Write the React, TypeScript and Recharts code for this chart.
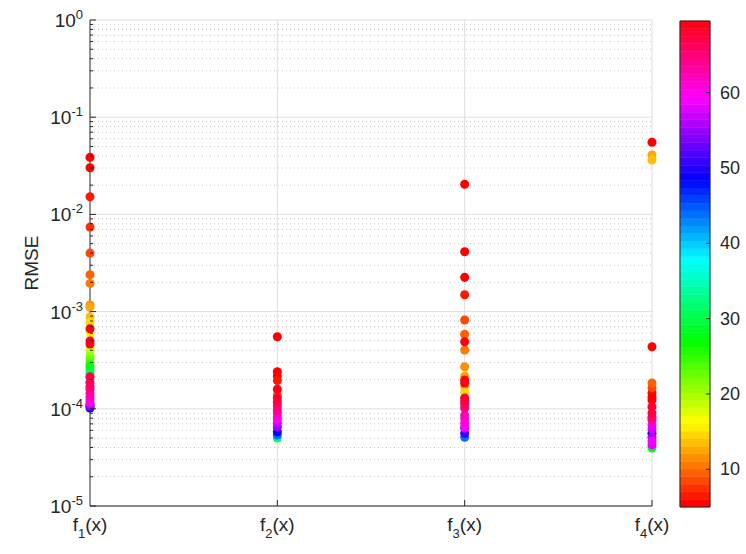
import React from 'react';
import {
  ScatterChart,
  Scatter,
  XAxis,
  YAxis,
  ZAxis,
  CartesianGrid,
  Cell,
  Label,
  ComposedChart,
  ReferenceArea,
} from 'recharts';

// ---------- data ----------
const categoryX = [1, 2, 3, 4];
const categorySubscripts = ['1', '2', '3', '4'];

const yMajorTicks = [1e-5, 1e-4, 1e-3, 1e-2, 1e-1, 1];
const yMinorMultipliers = [2, 3, 4, 5, 6, 7, 8, 9];
const colorbarTicks = [10, 20, 30, 40, 50, 60];
const colorMin = 5;
const colorMax = 69.5;

// RMSE values and colour value for each function column
const f1Rmse = [0.0386, 0.0302, 0.0152, 0.0074, 0.004, 0.0024, 0.00195, 0.00117, 0.00111, 0.00088, 0.00077, 0.000602, 0.000432, 0.000393, 0.00035, 0.00032, 0.00029, 0.00027, 0.00025, 0.00023, 0.00021, 0.00019, 0.000105, 0.00011, 0.000102, 0.000107, 0.00011, 0.000115, 0.000123, 0.000132, 0.000144, 0.000158, 0.00017, 0.000186, 0.000214, 0.000499, 0.000667, 0.000464];
const f1Color = [5, 6, 7, 8, 9, 10, 11, 12, 13, 14, 15, 16, 18, 19, 21, 23, 25, 27, 29, 31, 33, 35, 39, 44, 49, 54, 56, 59, 60, 62, 63, 64, 65, 66, 67, 68, 69, 70];

const f2Rmse = [0.000552, 0.000241, 0.000217, 0.000195, 0.000139, 0.00005, 0.0000537, 0.000058, 0.000065, 0.000071, 0.000077, 0.000082, 0.0000905, 0.000097, 0.000107, 0.000117, 0.000129, 0.000159];
const f2Color = [5, 6, 6, 7, 10, 32, 44, 49, 55, 57, 59, 60, 62, 64, 65, 67, 68, 69];

const f3Rmse = [0.0204, 0.00413, 0.00225, 0.00149, 0.00082, 0.000584, 0.000403, 0.000271, 0.000217, 0.000172, 0.000148, 0.000051, 0.000056, 0.000063, 0.000065, 0.000071, 0.000079, 0.000086, 0.000102, 0.000112, 0.00012, 0.000129, 0.000184, 0.00049, 0.000198];
const f3Color = [5, 6, 6, 7, 9, 10, 11, 12, 13, 13, 15, 44, 51, 56, 59, 60, 61, 62, 65, 66, 67, 68, 69, 69, 70];

const f4Rmse = [0.0552, 0.000435, 0.000146, 0.000132, 0.000123, 0.000164, 0.000184, 0.0408, 0.0363, 0.0000395, 0.0000562, 0.000051, 0.0000425, 0.0000467, 0.0000682, 0.000062, 0.000077, 0.000082, 0.0000905, 0.000105];
const f4Color = [5, 5, 6, 5, 6, 9, 10, 13, 14, 29, 49, 56, 58, 59, 60, 58, 64, 65, 67, 68];

// ---------- helpers ----------
const INK = '#262626';
const FONT = '"Liberation Sans", Arial, Helvetica, sans-serif';

function hsvToHex(h: number): string {
  const i = Math.floor(h * 6);
  const f = h * 6 - i;
  const q = 1 - f;
  let r = 0, g = 0, b = 0;
  switch (i % 6) {
    case 0: r = 1; g = f; b = 0; break;
    case 1: r = q; g = 1; b = 0; break;
    case 2: r = 0; g = 1; b = f; break;
    case 3: r = 0; g = q; b = 1; break;
    case 4: r = f; g = 0; b = 1; break;
    default: r = 1; g = 0; b = q; break;
  }
  const hx = (v: number) => Math.round(v * 255).toString(16).padStart(2, '0');
  return '#' + hx(r) + hx(g) + hx(b);
}

const NLEVELS = 64;
function colorFor(c: number): string {
  let idx = Math.floor(((c - colorMin) / (colorMax - colorMin)) * NLEVELS);
  idx = Math.max(0, Math.min(NLEVELS - 1, idx));
  return hsvToHex(idx / NLEVELS);
}

const yMinorTicks: number[] = [];
yMajorTicks.slice(0, -1).forEach((d) => yMinorMultipliers.forEach((m) => yMinorTicks.push(m * d)));
const yAllTicks = [...yMajorTicks, ...yMinorTicks].sort((a, b) => a - b);

const columns = [
  { x: categoryX[0], rmse: f1Rmse, col: f1Color },
  { x: categoryX[1], rmse: f2Rmse, col: f2Color },
  { x: categoryX[2], rmse: f3Rmse, col: f3Color },
  { x: categoryX[3], rmse: f4Rmse, col: f4Color },
].map((c) => c.rmse.map((v, i) => ({ x: c.x, y: v, c: c.col[i], fill: colorFor(c.col[i]) })));

const bands = Array.from({ length: NLEVELS }, (_, i) => ({
  y1: colorMin + ((colorMax - colorMin) * i) / NLEVELS,
  y2: colorMin + ((colorMax - colorMin) * (i + 1)) / NLEVELS,
  fill: hsvToHex(i / NLEVELS),
}));

// ---------- ticks ----------
const XTick = (props: any) => {
  const { x, y, payload } = props;
  const n = categorySubscripts[categoryX.indexOf(payload.value)];
  return (
    <g>
      {payload.value > categoryX[0] && <line x1={x} x2={x} y1={y} y2={y - 6} stroke={INK} strokeWidth={1} />}
      <text x={x} y={y + 25} textAnchor="middle" fill={INK} fontSize={19} fontFamily={FONT}>
        <tspan>f</tspan>
        <tspan dy={7} fontSize={13}>{n}</tspan>
        <tspan dy={-7}>(x)</tspan>
      </text>
    </g>
  );
};

const YTick = (props: any) => {
  const { x, y, payload } = props;
  const lv = Math.log10(payload.value);
  const e = Math.round(lv);
  const major = Math.abs(lv - e) < 1e-6;
  return (
    <g>
      <line x1={x} x2={x + (major ? 6 : 3)} y1={y} y2={y} stroke={INK} strokeWidth={1} />
      {major && (
        <text x={x - 7} y={y + 7} textAnchor="end" fill={INK} fontFamily={FONT}>
          <tspan fontSize={19}>10</tspan>
          <tspan dy={-8} fontSize={13}>{String(e)}</tspan>
        </text>
      )}
    </g>
  );
};

const CbTick = (props: any) => {
  const { x, y, payload } = props;
  return (
    <g>
      <line x1={x - 4} x2={x} y1={y} y2={y} stroke={INK} strokeWidth={1} />
      <text x={x + 10} y={y + 6} textAnchor="start" fill={INK} fontSize={18} fontFamily={FONT}>
        {payload.value}
      </text>
    </g>
  );
};

export default function App() {
  return (
    <div style={{ position: 'absolute', left: 0, top: 0, width: 746, height: 554, background: '#fff', fontFamily: FONT }}>
      <div style={{ position: 'absolute', left: 0, top: 0 }}>
        <ScatterChart width={746} height={554} margin={{ top: 20, right: 94, bottom: 0, left: 0 }}>
          <CartesianGrid horizontalValues={yMinorTicks} vertical={false} stroke="#c4c4c4" strokeDasharray="1 3" />
          <CartesianGrid horizontalValues={yMajorTicks} verticalValues={[2, 3, 4]} stroke="#dedede" />
          <XAxis
            dataKey="x"
            type="number"
            domain={[1, 4]}
            ticks={categoryX}
            interval={0}
            height={48}
            tickSize={0}
            tickMargin={0}
            tickLine={false}
            axisLine={{ stroke: INK }}
            tick={<XTick />}
          />
          <YAxis
            dataKey="y"
            type="number"
            scale="log"
            domain={[1e-5, 1]}
            ticks={yAllTicks}
            interval={0}
            width={90}
            tickSize={0}
            tickMargin={0}
            tickLine={false}
            axisLine={{ stroke: INK }}
            tick={<YTick />}
          >
            <Label
              content={(p: any) => {
                const vb = p.viewBox || { x: 0, y: 20, height: 486 };
                const cx = vb.x + 33;
                const cy = vb.y + vb.height / 2;
                return (
                  <text x={cx} y={cy} transform={`rotate(-90 ${cx} ${cy})`} textAnchor="middle" dominantBaseline="middle" fill={INK} fontSize={19} fontFamily={FONT}>
                    RMSE
                  </text>
                );
              }}
            />
          </YAxis>
          <ZAxis range={[34, 34]} />
          {columns.map((col, i) => (
            <Scatter key={i} data={col} isAnimationActive={false}>
              {col.map((p, j) => (
                <Cell key={j} fill={p.fill} stroke="none" />
              ))}
            </Scatter>
          ))}
        </ScatterChart>
      </div>
      <div style={{ position: 'absolute', left: 670, top: 0 }}>
        <ComposedChart width={76} height={554} data={[{ x: 0 }, { x: 1 }]} margin={{ top: 21, right: 0, bottom: 47, left: 10 }}>
          <XAxis dataKey="x" type="number" domain={[0, 1]} hide />
          <YAxis
            type="number"
            domain={[colorMin, colorMax]}
            allowDataOverflow
            ticks={colorbarTicks}
            interval={0}
            orientation="right"
            width={36}
            tickSize={0}
            tickMargin={0}
            tickLine={false}
            axisLine={false}
            tick={<CbTick />}
          />
          {bands.map((b, i) => (
            <ReferenceArea key={i} y1={b.y1} y2={b.y2} fill={b.fill} fillOpacity={1} stroke={b.fill} strokeWidth={0.5} ifOverflow="visible" />
          ))}
          <ReferenceArea y1={colorMin} y2={colorMax} fill="none" fillOpacity={0} stroke={INK} strokeWidth={1} ifOverflow="visible" />
        </ComposedChart>
      </div>
    </div>
  );
}
